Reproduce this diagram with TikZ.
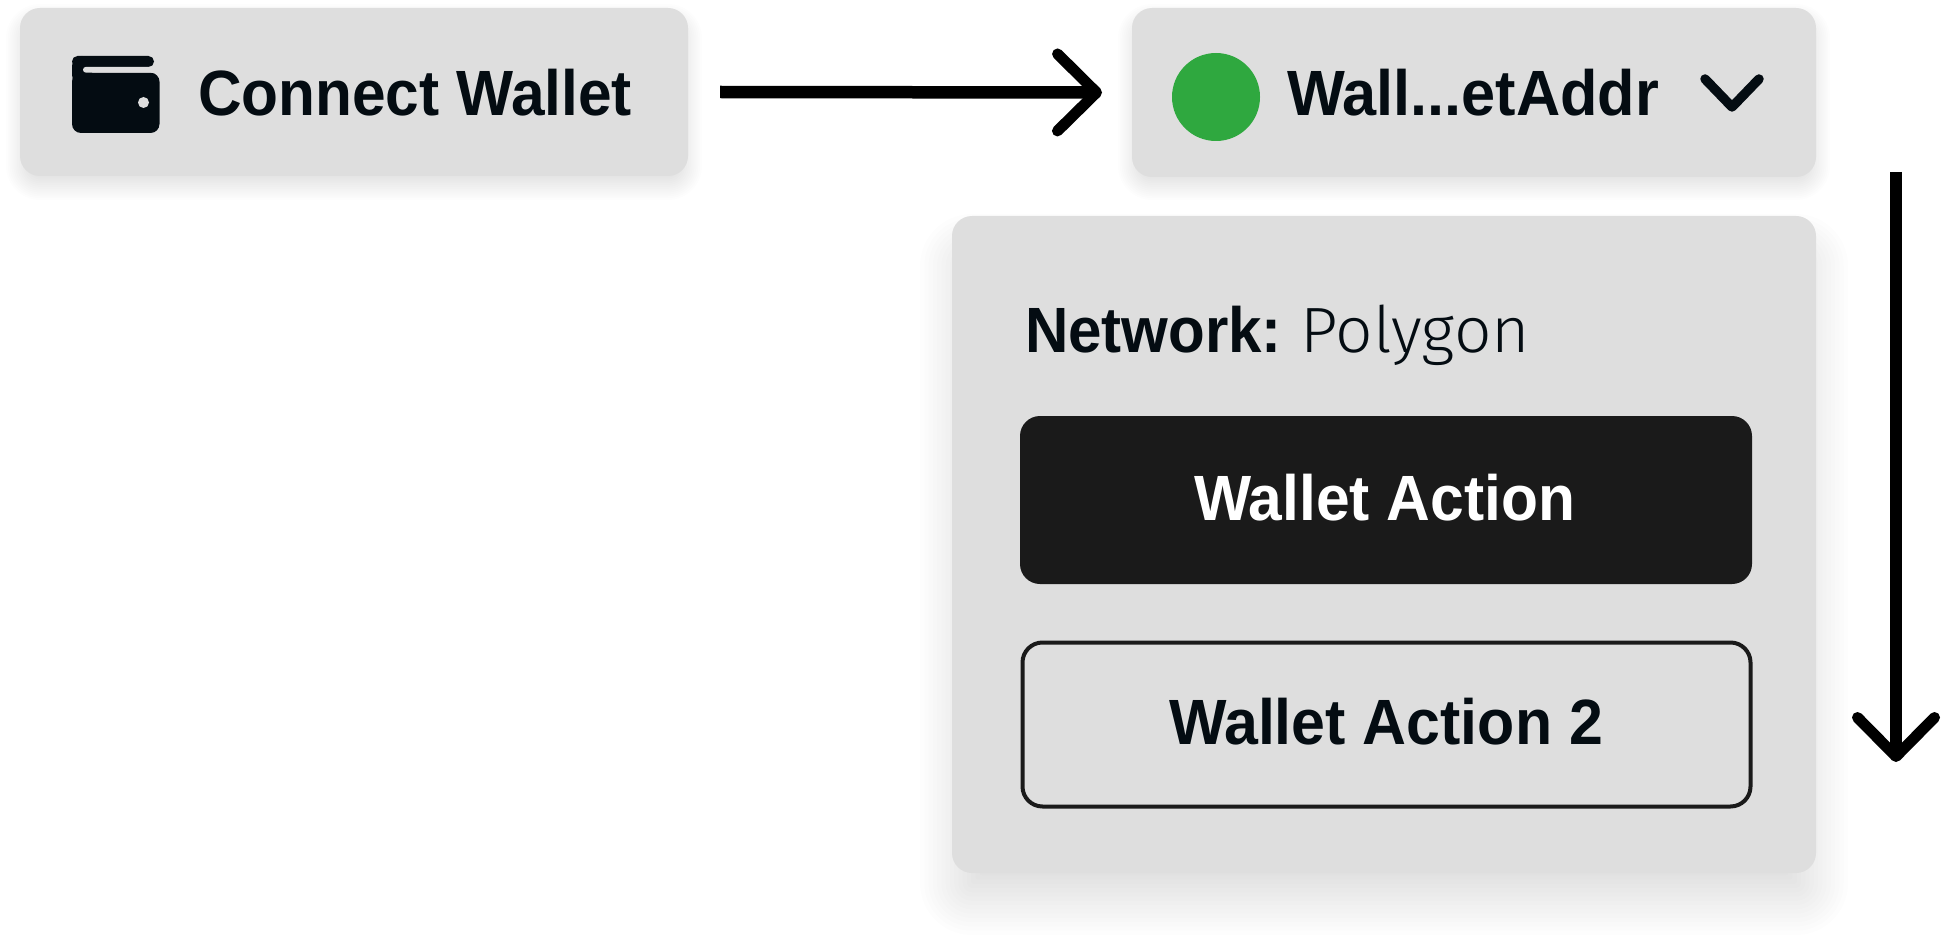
\documentclass[tikz,border=0pt]{standalone}
\usepackage{fontspec}
\usepackage{graphicx}
\usetikzlibrary{arrows.meta,calc}
\setmainfont{Liberation Sans}
\newfontfamily\lightfont{Fira Sans Light}
\definecolor{boxgray}{HTML}{DEDEDE}
\definecolor{inkdark}{HTML}{040C12}
\definecolor{btnblack}{HTML}{1A1A1A}
\definecolor{dotgreen}{HTML}{2FA83F}
\newcommand{\softshadow}[7]{% x1 y1 x2 y2 dy blur total-opacity
  \foreach \k in {0,...,15}{
    \pgfmathsetmacro{\ee}{#6*(1-2*\k/15)}
    \pgfmathsetmacro{\rr}{max(2,20+\ee)}
    \fill[black,fill opacity=#7/16,rounded corners=\rr pt]
      (#1-\ee,#2+#5-\ee) rectangle (#3+\ee,#4+#5+\ee);
  }}
\newcommand{\fitw}[2]{\resizebox{#1pt}{\height}{#2}}
\tikzset{
  x=1pt,y=-1pt,
  card/.style={fill=boxgray,draw=none,rounded corners=20pt,inner sep=0pt,outer sep=0pt},
  label text/.style={anchor=base west,inner sep=0pt,outer sep=0pt,text=inkdark,font=\fontsize{64}{64}\selectfont\bfseries},
  flow/.style={line width=12.5pt,black,-{Straight Barb[length=39pt,width=77pt,line width=11pt,round]}},
  chev/.style={line width=9.5pt,inkdark,line cap=round,line join=round},
}
\begin{document}
\begin{tikzpicture}
\useasboundingbox (0,0) rectangle (1941,944);
\fill[white] (0,0) rectangle (1941,944);
\softshadow{20}{8}{688}{176}{10}{14}{0.15}
\softshadow{1132}{8}{1816}{176}{10}{14}{0.15}
\softshadow{952}{216}{1816}{873}{30}{32}{0.13}
\node[card,minimum width=668pt,minimum height=168pt] (connect) at (354,92) {};
\node[card,minimum width=684pt,minimum height=169pt] (address) at (1474,92.5) {};
\node[card,minimum width=864pt,minimum height=657pt] (panel) at (1384,544.5) {};
\node[fill=btnblack,rounded corners=20pt,inner sep=0pt,minimum width=732pt,minimum height=168pt] (action1) at (1386,500) {};
\node[fill=boxgray,draw=btnblack,line width=4pt,rounded corners=20pt,inner sep=0pt,minimum width=728pt,minimum height=164pt] (action2) at (1386.5,724.5) {};
% wallet icon
\fill[inkdark,rounded corners=9pt] (72,72.7) rectangle (159.5,133);
\fill[inkdark,rounded corners=5.5pt] (72,56) rectangle (154,67);
\fill[inkdark,rounded corners=10pt] (72,56) rectangle (92,85);
\fill[boxgray,rounded corners=3pt] (83,66.8) rectangle (158,72.7);
\fill[boxgray] (143.5,102.5) circle (5.5);
\node[label text] (t1) at (198,116) {\fitw{434}{Connect Wallet}};
\node[circle,fill=dotgreen,inner sep=0pt,minimum size=88pt] (dot) at (1216,97) {};
\node[label text] (t2) at (1287,116) {\fitw{372}{Wall...etAddr}};
\coordinate (c1) at (1705,79);
\coordinate (c2) at (1732,107);
\coordinate (c3) at (1759,79);
\draw[chev] (c1) -- (c2) -- (c3);
\node[label text] (t3) at (1025,352) {\fitw{257}{Network:}};
\node[label text,font=\fontsize{64}{64}\selectfont\lightfont] (t4) at (1300,352) {\fitw{230}{Polygon}};
\node[label text,text=white] (t5) at (1194,520) {\fitw{381}{Wallet Action}};
\node[label text] (t6) at (1169,744) {\fitw{434}{Wallet Action 2}};
\coordinate (a2s) at (1896,172);
\coordinate (a2e) at (1896,762);
\draw[flow] ([xshift=32pt]connect.east) -- ([xshift=-30pt]address.west);
\draw[flow] (a2s) -- (a2e);
\end{tikzpicture}
\end{document}
